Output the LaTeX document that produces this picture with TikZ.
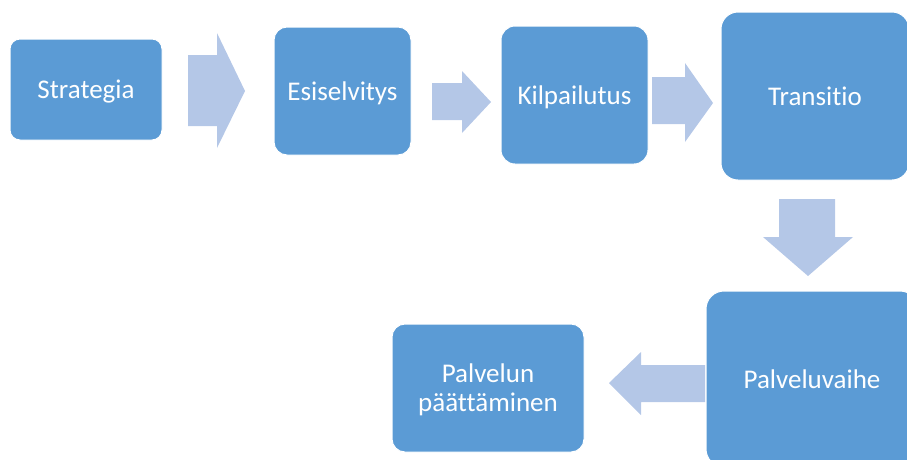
\documentclass[tikz,border=0pt]{standalone}
\usepackage{fontspec}
\setmainfont[Ligatures=NoCommon]{Carlito}
\definecolor{phaseblue}{HTML}{5B9BD5}
\definecolor{flowblue}{HTML}{B4C7E7}

\begin{document}
\begin{tikzpicture}[x=1pt, y=-1pt, thin,
        phase/.style={draw=white, line width=1pt, fill=phaseblue, text=white, align=center,
            font=\fontsize{27}{29}\selectfont, inner sep=0pt, text height=22pt, text depth=4pt},
        flow/.style={fill=flowblue}]
            \useasboundingbox (0, 0) rectangle (907, 459);
            \clip (0, 0) rectangle (907, 459);
            \node[phase, minimum width=152, minimum height=101, rounded corners=10] (strat) at (86, 89.5) {Strategia};
            \node[phase, minimum width=137, minimum height=128, rounded corners=13] (esisel) at (342.5, 91) {Esiselvitys};
            \node[phase, minimum width=147, minimum height=138, rounded corners=14] (kilp) at (574.5, 95) {Kilpailutus};
            \node[phase, minimum width=188, minimum height=168, rounded corners=17] (trans) at (815, 96) {Transitio};
            \node[phase, minimum width=212, minimum height=176, rounded corners=18] (palvv) at (812, 379) {Palveluvaihe};
            \node[phase, minimum width=192, minimum height=128, rounded corners=13, text height=51pt] (paatt) at (488, 388) {Palvelun\\päättäminen};
            % block arrows
            \fill[flow] (188, 55) -- (217, 55) -- (217, 33) -- (245, 91) -- (217, 148) -- (217, 126) -- (188, 126) -- cycle;
            \fill[flow] (432, 83) -- (462, 83) -- (462, 71) -- (491, 102) -- (462, 133) -- (462, 120) -- (432, 120) -- cycle;
            \fill[flow] (652, 77) -- (685, 77) -- (685, 63) -- (713, 103) -- (685, 142) -- (685, 124) -- (652, 124) -- cycle;
            \fill[flow] (779, 199) -- (835, 199) -- (835, 237) -- (853, 237) -- (808, 276) -- (763, 237) -- (779, 237) -- cycle;
            \fill[flow] (705, 365) -- (641, 365) -- (641, 352) -- (609, 383) -- (641, 415) -- (641, 402) -- (705, 402) -- cycle;
        \end{tikzpicture}
\end{document}
